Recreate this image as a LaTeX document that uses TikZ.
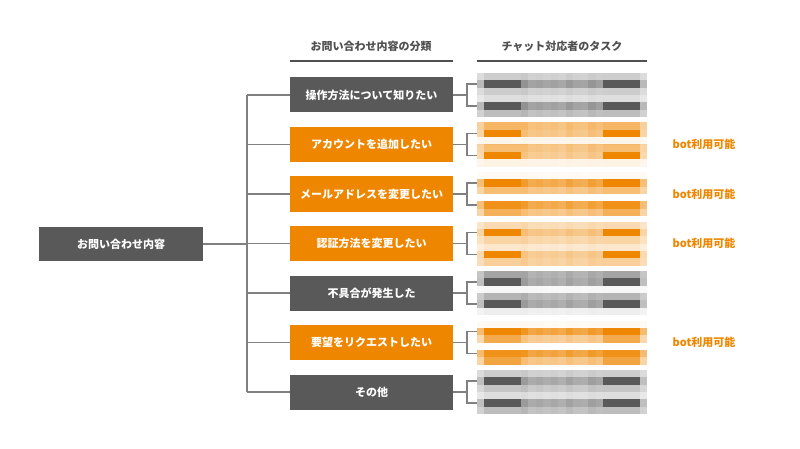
\documentclass[tikz,border=0pt]{standalone}
\usepackage{fontspec}
\setmainfont{Noto Sans CJK JP}
\definecolor{boxgray}{HTML}{595959}
\definecolor{boxorange}{HTML}{EE8600}
\definecolor{linegray}{HTML}{808080}
\definecolor{headgray}{HTML}{505050}
\newcommand{\mosaic}[3]{%
  \foreach \e/\m [count=\r] in {#3} {
    \pgfmathsetmacro\ytop{#1-22+(\r-1)*44/6}
    \fill[#2, fill opacity=0.7*\m] (477,\ytop) rectangle ++(7,7.34);
    \fill[#2, fill opacity=0.7*\m] (640,\ytop) rectangle ++(7,7.34);
    \fill[#2, fill opacity=\e] (484,\ytop) rectangle ++(37,7.34);
    \fill[#2, fill opacity=\e] (603,\ytop) rectangle ++(37,7.34);
    \foreach \k/\f in {0/1.1,1/0.92,2/0.97,3/0.9,4/0.95,5/0.88,6/1.02,7/0.92,8/0.9,9/1.05,10/0.97}
      \fill[#2, fill opacity=\m*\f] (521+\k*7.455,\ytop) rectangle ++(7.455,7.34);
  }%
}
\begin{document}
\begin{tikzpicture}[x=1pt, y=-1pt, font=\fontsize{11}{13}\selectfont\bfseries,
  graybox/.style={fill=boxgray, text=white, minimum width=163pt, minimum height=35pt, inner sep=0pt},
  orangebox/.style={fill=boxorange, text=white, minimum width=163pt, minimum height=35pt, inner sep=0pt},
  taskbox/.style={minimum width=170pt, minimum height=44pt, inner sep=0pt},
  wire/.style={draw=linegray, line width=1.2pt},
  headrule/.style={draw=headgray, line width=1.5pt},
  botlabel/.style={text=boxorange}]
\useasboundingbox (0,0) rectangle (800,449);

\node[text=headgray] (h1) at (371,46) {お問い合わせ内容の分類};
\node[text=headgray] (h2) at (562,46) {チャット対応者のタスク};

\node[graybox, minimum width=164pt, minimum height=34pt] (root) at (121,244) {お問い合わせ内容};

\node[graybox] (c1) at (371.5,95) {操作方法について知りたい};
\node[orangebox] (c2) at (371.5,144.5) {アカウントを追加したい};
\node[orangebox] (c3) at (371.5,194) {メールアドレスを変更したい};
\node[orangebox] (c4) at (371.5,243.5) {認証方法を変更したい};
\node[graybox] (c5) at (371.5,293) {不具合が発生した};
\node[orangebox] (c6) at (371.5,342.5) {要望をリクエストしたい};
\node[graybox] (c7) at (371.5,392) {その他};

\draw[headrule] ([yshift=-15pt]h1.center -| c1.west) -- ([yshift=-15pt]h1.center -| c1.east);

\mosaic{95}{boxgray}{0.3/0.3, 1/0.6, 0.3/0.3, 0.2/0.2, 1/0.6, 0.4/0.4}
\mosaic{144.5}{boxorange}{0.6/0.55, 1/0.5, 0.08/0.08, 0.55/0.5, 1/0.45, 0.1/0.1}
\mosaic{194}{boxorange}{0.05/0.05, 1/0.75, 0.55/0.5, 0/0, 0.9/0.75, 0.65/0.5}
\mosaic{243.5}{boxorange}{0.3/0.3, 1/0.5, 0.35/0.35, 0.2/0.2, 1/0.45, 0.4/0.4}
\mosaic{293}{boxgray}{0.55/0.5, 1/0.55, 0.05/0.05, 0.45/0.45, 1/0.55, 0.1/0.1}
\mosaic{342.5}{boxorange}{0.05/0.05, 1/0.8, 0.7/0.45, 0/0, 0.9/0.8, 0.75/0.5}
\mosaic{392}{boxgray}{0.3/0.3, 1/0.55, 0.35/0.35, 0.2/0.2, 1/0.55, 0.4/0.4}

\node[taskbox] (t1) at (562,95) {};
\node[taskbox] (t2) at (562,144.5) {};
\node[taskbox] (t3) at (562,194) {};
\node[taskbox] (t4) at (562,243.5) {};
\node[taskbox] (t5) at (562,293) {};
\node[taskbox] (t6) at (562,342.5) {};
\node[taskbox] (t7) at (562,392) {};

\draw[headrule] ([yshift=-15pt]h2.center -| t1.west) -- ([yshift=-15pt]h2.center -| t1.east);

\node[botlabel] (b2) at (704,144.5) {bot利用可能};
\node[botlabel] (b3) at (704,194) {bot利用可能};
\node[botlabel] (b4) at (704,243.5) {bot利用可能};
\node[botlabel] (b6) at (704,342.5) {bot利用可能};

\coordinate (trunk) at (247,0);
\coordinate (brk) at (467,0);

\draw[wire] (root.east) -- (root.east -| trunk);
\draw[wire] (c1.west -| trunk) -- (c7.west -| trunk);
\foreach \i in {1,...,7} {
  \draw[wire] (c\i.west -| trunk) -- (c\i.west);
  \draw[wire] (c\i.east) -- (c\i.east -| brk);
  \draw[wire] ([yshift=11pt]t\i.west) -| (c\i.east -| brk) |- ([yshift=-11pt]t\i.west);
}
\end{tikzpicture}
\end{document}
